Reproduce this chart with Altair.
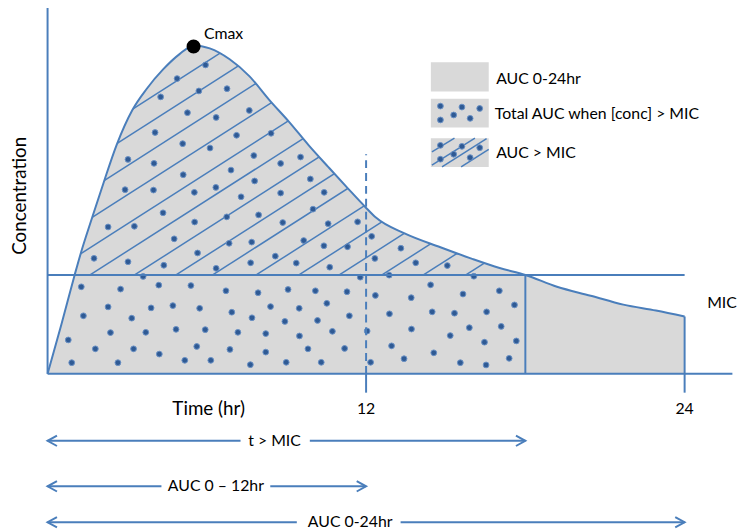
import altair as alt
import pandas as pd

# ---------------- data ----------------
# concentration-time curve (time in hours, concentration in arbitrary units, MIC = 10)
curve_t = [0.0, 0.52, 1.02, 1.23, 1.68, 2.12, 2.61, 3.20, 3.73, 4.36, 4.96, 5.52, 6.11, 6.86,
           7.60, 8.35, 9.09, 9.84, 10.58, 11.33, 11.96, 12.37, 13.45, 14.80, 16.02, 17.03,
           18.0, 19.19, 20.46, 21.69, 22.92, 24.0]
curve_c = [0.0, 5.0, 10.0, 12.0, 15.8, 19.4, 23.2, 26.7, 28.8, 30.8, 32.3, 33.2, 32.9, 31.8,
           30.1, 27.7, 25.5, 23.1, 20.9, 18.7, 16.9, 15.8, 14.2, 12.8, 11.6, 10.7,
           10.0, 8.8, 7.9, 7.0, 6.4, 5.8]
MIC = 10.0
T_MIC_END = 18.0
CMAX_T, CMAX_C = 5.50, 33.1

# scattered dots of the "total AUC when [conc] > MIC" pattern
dot_t = [5.95, 4.88, 5.70, 6.76, 4.26, 5.27, 6.35, 7.60, 4.05, 5.09, 7.12, 8.42, 6.12, 3.03,
         4.01, 5.11, 6.91, 7.77, 8.78, 9.53, 2.92, 3.99, 5.53, 6.34, 7.80, 7.29, 8.78, 9.90,
         10.42, 4.35, 5.54, 6.75, 7.95, 8.86, 10.00, 10.57, 11.68, 2.28, 3.27, 4.77, 5.65,
         6.84, 7.69, 9.65, 10.41, 11.30, 12.21, 1.75, 3.03, 4.38, 6.35, 7.65, 8.58, 9.37,
         10.63, 12.33, 13.31, 13.87, 15.06, 3.60, 11.78, 12.87, 16.06,
         1.27, 2.75, 4.19, 5.40, 2.28, 3.90, 4.72, 5.73, 1.35, 3.17, 2.37, 3.70, 4.84, 5.94,
         0.78, 1.80, 3.24, 4.21, 5.62, 0.91, 2.65, 5.17, 6.15, 6.72, 7.93, 9.06, 10.09, 11.28,
         6.94, 8.40, 9.48, 10.52, 7.70, 8.94, 10.17, 11.37, 7.17, 8.22, 9.49, 10.73, 12.04,
         6.87, 8.22, 9.81, 11.19, 7.64, 8.99, 10.31, 12.17, 12.35, 13.70, 14.43, 15.65, 17.02,
         17.59, 12.88, 14.49, 15.33, 16.54, 13.71, 15.17, 15.89, 17.09, 12.96, 16.46, 17.66,
         13.43, 14.55, 15.55, 16.52, 17.39]
dot_c = [31.23, 29.85, 28.60, 28.83, 28.00, 26.40, 25.92, 26.63, 24.40, 23.27, 24.12, 24.32,
         22.83, 21.68, 21.28, 20.13, 20.60, 22.07, 21.27, 21.92, 18.62, 18.58, 18.35, 18.85,
         19.50, 17.90, 18.28, 19.70, 18.35, 16.28, 15.35, 15.87, 16.07, 15.30, 16.65, 15.18,
         15.37, 14.85, 14.92, 13.65, 12.22, 13.20, 13.32, 13.48, 12.95, 12.85, 13.90, 11.68,
         11.33, 10.98, 10.67, 11.23, 11.90, 11.20, 10.78, 11.67, 12.70, 11.23, 10.95, 9.85,
         9.77, 9.98, 9.87,
         8.80, 8.57, 8.97, 8.93, 6.77, 6.67, 6.90, 6.63, 5.87, 5.63, 4.17, 4.20, 4.50, 4.47,
         3.43, 2.53, 2.53, 2.00, 2.77, 1.13, 1.13, 1.37, 1.37, 8.40, 8.20, 8.53, 8.40, 8.30,
         6.23, 6.80, 6.63, 7.13, 5.67, 5.30, 5.40, 5.87, 4.20, 4.07, 3.83, 4.30, 4.33,
         2.47, 2.20, 2.53, 2.57, 0.93, 1.17, 1.17, 1.17, 7.93, 7.70, 9.00, 8.07, 8.40,
         6.97, 6.07, 6.27, 6.13, 6.27, 4.53, 3.87, 4.67, 4.80, 2.83, 3.20, 3.33,
         1.53, 2.13, 1.13, 0.90, 1.57]

# hatch lines: where each diagonal line meets the MIC level (hours) and their slope
hatch_intercepts = [-6.56, -5.12, -3.42, -1.71, 0.0, 1.60, 3.28, 4.84, 6.22, 7.86, 9.47,
                    10.99, 12.60, 14.16, 15.76]
HATCH_SLOPE = 1.717  # concentration units per hour

# time labels
tick_hours = [12, 24]
tick_text = ["12", "24"]

# arrows under the axis
arrow_labels = ["t > MIC", "AUC 0 \u2013 12hr", "AUC 0-24hr"]
arrow_end = [18.0, 12.0, 24.0]
arrow_row = [-6.77, -11.37, -15.0]
arrow_text_t = [8.55, 6.34, 11.40]
arrow_gap_l = [7.27, 4.29, 9.39]
arrow_gap_r = [9.88, 8.39, 13.30]

legend_labels = ["AUC 0-24hr", "Total AUC when [conc] > MIC", "AUC > MIC"]

# ---------------- layout ----------------
W, H = 742, 523
PX_PER_HR = 26.833
PX_PER_C = 10.0
X0_PAGE, Y0_PAGE = 48, 375
x_dom = [(8 - X0_PAGE) / PX_PER_HR, (8 + W - X0_PAGE) / PX_PER_HR]
y_dom = [(Y0_PAGE - (8 + H)) / PX_PER_C, (Y0_PAGE - 8) / PX_PER_C]
TOP = 37.5

BLUE = "#4A7EBB"
GRAY = "#D9D9D9"
DOT_FILL = "#2F5A94"
DOT_EDGE = "#6A91C4"
FONT = "Lato"

xs = alt.Scale(domain=x_dom, nice=False, zero=False)
ys = alt.Scale(domain=y_dom, nice=False, zero=False)


def X(f):
    return alt.X(f, type="quantitative", scale=xs, axis=None)


def Y(f):
    return alt.Y(f, type="quantitative", scale=ys, axis=None)


curve = pd.DataFrame({"t": curve_t, "c": curve_c})
curve["base"] = 0.0
curve["top"] = TOP

gray_area = alt.Chart(curve).mark_area(color=GRAY, interpolate="monotone", opacity=1).encode(
    x=X("t"), y=Y("c"), y2=alt.Y2("base"))

rows = []
for i, ti in enumerate(hatch_intercepts):
    t0 = max(ti, 0.0)
    t1 = min(ti + (36.0 - MIC) / HATCH_SLOPE, 23.0)
    rows.append({"t": t0, "c": MIC + HATCH_SLOPE * (t0 - ti),
                 "t2": t1, "c2": MIC + HATCH_SLOPE * (t1 - ti)})
hatch = alt.Chart(pd.DataFrame(rows)).mark_rule(color=BLUE, strokeWidth=1.5).encode(
    x=X("t"), y=Y("c"), x2="t2", y2="c2")

mask = alt.Chart(curve).mark_area(color="white", interpolate="monotone", opacity=1).encode(
    x=X("t"), y=Y("c"), y2=alt.Y2("top"))

dots = alt.Chart(pd.DataFrame({"t": dot_t, "c": dot_c})).mark_point(
    filled=True, fill=DOT_FILL, stroke=DOT_EDGE, strokeWidth=1, size=34, opacity=1
).encode(x=X("t"), y=Y("c"))

segs = pd.DataFrame([
    {"t": 0.0, "c": MIC, "t2": 24.0, "c2": MIC},            # MIC level
    {"t": T_MIC_END, "c": 0.0, "t2": T_MIC_END, "c2": MIC},  # end of t > MIC
    {"t": 0.0, "c": 0.0, "t2": 25.8, "c2": 0.0},            # time axis
    {"t": 0.0, "c": 0.0, "t2": 0.0, "c2": TOP},             # concentration axis
    {"t": 12.0, "c": 0.0, "t2": 12.0, "c2": -1.9},          # 12 h tick
    {"t": 24.0, "c": 5.8, "t2": 24.0, "c2": -1.9},          # 24 h tick
])
solid = alt.Chart(segs).mark_rule(color=BLUE, strokeWidth=2).encode(
    x=X("t"), y=Y("c"), x2="t2", y2="c2")
dashed = alt.Chart(pd.DataFrame({"t": [12.0], "c": [0.0], "c2": [22.2]})).mark_rule(
    color=BLUE, strokeWidth=2, strokeDash=[8, 5]).encode(x=X("t"), y=Y("c"), y2="c2")

curve_line = alt.Chart(curve).mark_line(color=BLUE, strokeWidth=2, interpolate="monotone").encode(
    x=X("t"), y=Y("c"))

cmax = alt.Chart(pd.DataFrame({"t": [CMAX_T], "c": [CMAX_C]})).mark_point(
    filled=True, color="black", size=200, opacity=1).encode(x=X("t"), y=Y("c"))
cmax_txt = alt.Chart(pd.DataFrame({"t": [5.89], "c": [34.4], "s": ["Cmax"]})).mark_text(
    align="left", baseline="middle", font=FONT, fontSize=16, color="black").encode(
    x=X("t"), y=Y("c"), text="s:N")

# ---------------- legend ----------------
box_l, box_r = 14.44, 16.62
box_rows = [(31.5, 28.55), (27.8, 24.9), (23.83, 20.9)]
leg_boxes = alt.Chart(pd.DataFrame(
    [{"t": box_l, "t2": box_r, "c": a, "c2": b} for a, b in box_rows])).mark_rect(
    color=GRAY, opacity=1).encode(x=X("t"), x2="t2", y=Y("c"), y2="c2")
pattern = [(0.36, -0.73), (0.36, -2.13), (0.86, -1.63), (1.17, -0.83), (1.48, -1.97), (1.84, -0.97)]
leg_dot_rows = []
for top in (box_rows[1][0], box_rows[2][0]):
    for dt, dc in pattern:
        leg_dot_rows.append({"t": box_l + dt, "c": top + dc})
leg_dots = alt.Chart(pd.DataFrame(leg_dot_rows)).mark_point(
    filled=True, fill=DOT_FILL, stroke=DOT_EDGE, strokeWidth=1, size=34, opacity=1
).encode(x=X("t"), y=Y("c"))
leg_hatch = alt.Chart(pd.DataFrame([
    {"t": 14.48, "c": 22.43, "t2": 15.33, "c2": 23.83},
    {"t": 14.48, "c": 21.10, "t2": 16.10, "c2": 23.83},
    {"t": 14.86, "c": 20.93, "t2": 16.54, "c2": 23.77},
    {"t": 15.58, "c": 20.93, "t2": 16.62, "c2": 22.70},
])).mark_rule(color=BLUE, strokeWidth=1.5).encode(x=X("t"), y=Y("c"), x2="t2", y2="c2")
leg_text = alt.Chart(pd.DataFrame({"t": [16.90, 16.85, 16.90], "c": [29.85, 26.25, 22.35],
                                   "s": legend_labels})).mark_text(
    align="left", baseline="middle", font=FONT, fontSize=16, color="black").encode(
    x=X("t"), y=Y("c"), text="s:N")

# ---------------- labels ----------------
ticks_txt = alt.Chart(pd.DataFrame({"t": tick_hours, "c": [-3.6, -3.6], "s": tick_text})).mark_text(
    align="center", baseline="middle", font=FONT, fontSize=16, color="black").encode(
    x=X("t"), y=Y("c"), text="s:N")
time_txt = alt.Chart(pd.DataFrame({"t": [6.07], "c": [-3.6], "s": ["Time (hr)"]})).mark_text(
    align="center", baseline="middle", font=FONT, fontSize=19, color="black").encode(
    x=X("t"), y=Y("c"), text="s:N")
mic_txt = alt.Chart(pd.DataFrame({"t": [24.85], "c": [7.2], "s": ["MIC"]})).mark_text(
    align="left", baseline="middle", font=FONT, fontSize=16, color="black").encode(
    x=X("t"), y=Y("c"), text="s:N")
conc_txt = alt.Chart(pd.DataFrame({"t": [-1.03], "c": [18.0], "s": ["Concentration"]})).mark_text(
    align="center", baseline="middle", angle=270, font=FONT, fontSize=19, color="black").encode(
    x=X("t"), y=Y("c"), text="s:N")

# ---------------- arrows ----------------
arr_lines = pd.DataFrame(
    [{"t": 0.0, "t2": gl, "c": r} for gl, r in zip(arrow_gap_l, arrow_row)] +
    [{"t": gr, "t2": e, "c": r} for gr, e, r in zip(arrow_gap_r, arrow_end, arrow_row)])
arrows = alt.Chart(arr_lines).mark_rule(color=BLUE, strokeWidth=2).encode(
    x=X("t"), x2="t2", y=Y("c"))
heads_r = alt.Chart(pd.DataFrame({"t": arrow_end, "c": arrow_row})).mark_point(
    shape="M-1,-0.55L0,0L-1,0.55", filled=False, size=361, strokeWidth=2, color=BLUE, opacity=1
).encode(x=X("t"), y=Y("c"))
heads_l = alt.Chart(pd.DataFrame({"t": [0.0, 0.0, 0.0], "c": arrow_row})).mark_point(
    shape="M1,-0.55L0,0L1,0.55", filled=False, size=361, strokeWidth=2, color=BLUE, opacity=1
).encode(x=X("t"), y=Y("c"))
arr_txt = alt.Chart(pd.DataFrame({"t": arrow_text_t, "c": arrow_row, "s": arrow_labels})).mark_text(
    align="center", baseline="middle", font=FONT, fontSize=16, color="black").encode(
    x=X("t"), y=Y("c"), text="s:N")

chart = alt.layer(
    gray_area, hatch, mask, dots, solid, dashed, curve_line, cmax, cmax_txt,
    leg_boxes, leg_hatch, leg_dots, leg_text,
    ticks_txt, time_txt, mic_txt, conc_txt,
    arrows, heads_r, heads_l, arr_txt,
).properties(
    width=W, height=H, padding=0, autosize=alt.AutoSizeParams(type="none")
).configure_view(stroke=None)

chart.save("out.html", embed_options={"renderer": "svg", "actions": False})
